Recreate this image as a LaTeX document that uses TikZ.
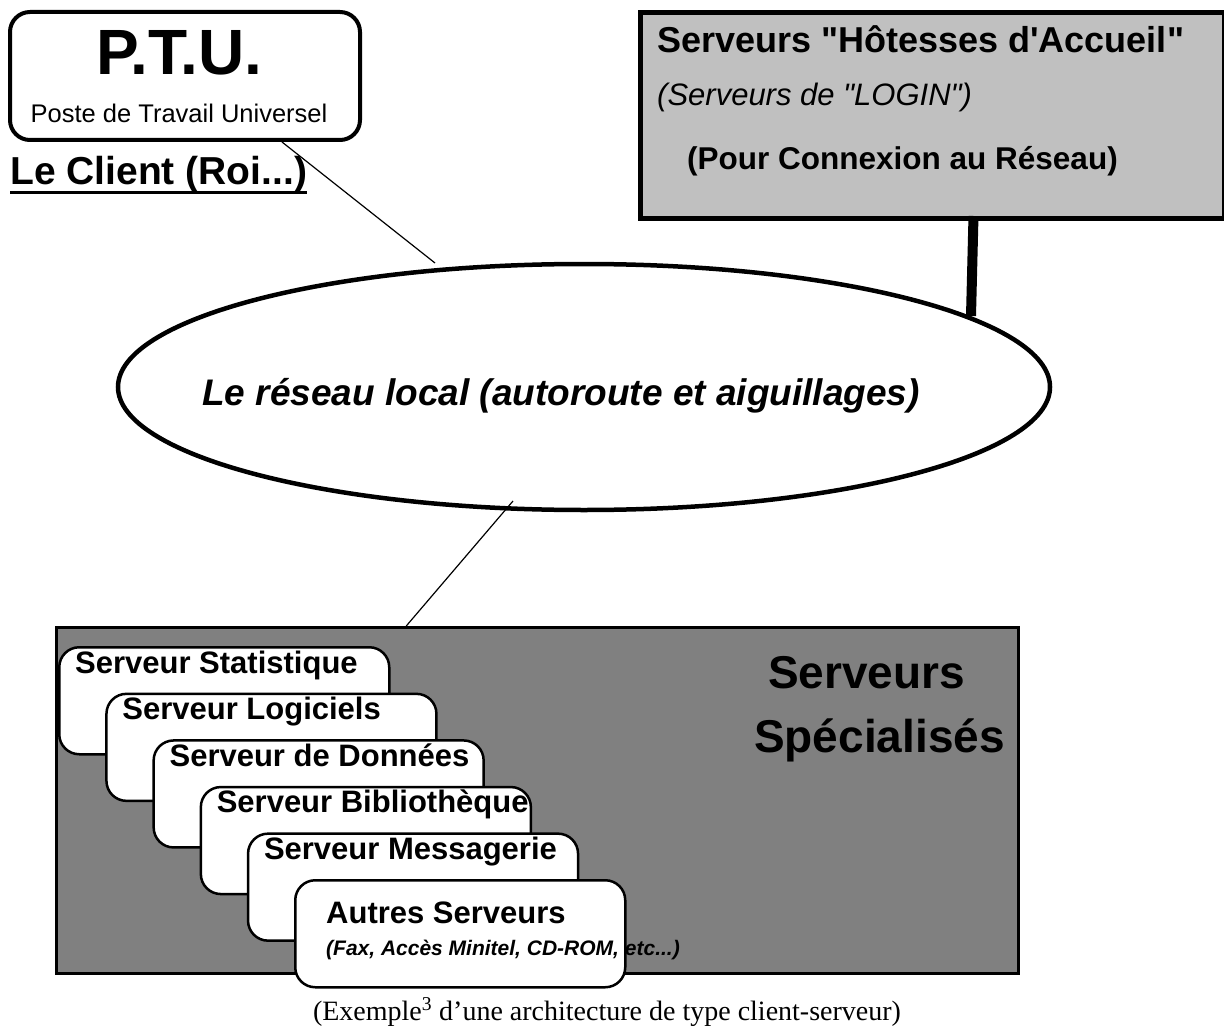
\documentclass[tikz,border=0pt]{standalone}
\usepackage{fontspec}
\setmainfont{Liberation Sans}[Ligatures=TeXOff]
\newfontfamily\capfont{Liberation Serif}
\usetikzlibrary{shapes.geometric}
\definecolor{hostgray}{HTML}{C0C0C0}
\definecolor{specgray}{HTML}{808080}
\newcommand{\fsz}[1]{\fontsize{#1}{#1}\selectfont}

\begin{document}
\begin{tikzpicture}[x=1pt, y=-1pt,
	txt/.style={anchor=base west, inner sep=0pt},
	srvbox/.style={draw, line width=2.5pt, fill=white, rounded corners=20pt, anchor=north west, minimum width=330pt, minimum height=107pt},
	srvlabel/.style={txt, font=\fsz{31}\bfseries},
	link/.style={line width=1.2pt}]
	\newcommand{\stepX}{47.2}
	\newcommand{\stepY}{46.6}

	\useasboundingbox (0,0) rectangle (1224,1030);

	% client
	\node[draw, line width=4pt, rounded corners=20pt, anchor=north west, minimum width=350pt, minimum height=128pt] (ptu) at (8,10) {};
	\node[anchor=base, inner sep=0pt, font=\fsz{64}\bfseries] (ptuTitle) at (179,75) {P.T.U.};
	\node[anchor=base, inner sep=0pt, font=\fsz{25.5}] (ptuSub) at (179,123) {Poste de Travail Universel};
	\node[txt, font=\fsz{39}\bfseries] (client) at (10,185) {Le Client (Roi...)};
	\draw[line width=3pt] ([yshift=-7pt]client.base west) -- ([yshift=-7pt]client.base east);	% underline

	% login servers
	\node[draw, line width=5pt, fill=hostgray, anchor=north west, minimum width=584pt, minimum height=206pt] (host) at (638,10) {};
	\node[txt, font=\fsz{36}\bfseries] (hostTitle) at (657,53) {Serveurs "Hôtesses d'Accueil"};
	\node[txt, font=\fsz{31}\itshape] (hostLogin) at (657,106) {(Serveurs de "LOGIN")};
	\node[txt, font=\fsz{31.5}\bfseries] (hostNote) at (687,170) {(Pour Connexion au Réseau)};

	% local network
	\node[draw, ellipse, line width=4.5pt, minimum width=932pt, minimum height=246pt, inner sep=0pt] (lan) at (584,387) {};
	\node[txt, font=\fsz{37}\bfseries\itshape] (lanText) at (202,405) {Le réseau local (autoroute et aiguillages)};

	% specialised servers
	\node[draw, line width=2.5pt, fill=specgray, anchor=north west, minimum width=962pt, minimum height=346pt] (spec) at (55,626) {};
	\node[txt, font=\fsz{46}\bfseries] (specTop) at (768,688) {Serveurs};
	\node[txt, font=\fsz{46}\bfseries] (specBot) at (754,752) {Spécialisés};

	\node[srvbox] (srvStat) at (58,646) {};
	\node[srvlabel] (lblStat) at ([xshift=17pt,yshift=-27pt]srvStat.north west) {Serveur Statistique};
	\node[srvbox] (srvLog) at (58+\stepX,646+\stepY) {};
	\node[srvlabel] (lblLog) at ([xshift=17pt,yshift=-27pt]srvLog.north west) {Serveur Logiciels};
	\node[srvbox] (srvData) at (58+2*\stepX,646+2*\stepY) {};
	\node[srvlabel] (lblData) at ([xshift=17pt,yshift=-27pt]srvData.north west) {Serveur de Données};
	\node[srvbox] (srvBib) at (58+3*\stepX,646+3*\stepY) {};
	\node[srvlabel] (lblBib) at ([xshift=17pt,yshift=-27pt]srvBib.north west) {Serveur Bibliothèque};
	\node[srvbox] (srvMsg) at (58+4*\stepX,646+4*\stepY) {};
	\node[srvlabel] (lblMsg) at ([xshift=17pt,yshift=-27pt]srvMsg.north west) {Serveur Messagerie};
	\node[srvbox] (srvOther) at (58+5*\stepX,646+5*\stepY) {};
	\node[srvlabel] (lblOther) at ([xshift=32pt,yshift=-44pt]srvOther.north west) {Autres Serveurs};
	\node[txt, font=\fsz{21}\bfseries\itshape] (lblOtherNote) at ([xshift=32pt,yshift=-76pt]srvOther.north west) {(Fax, Accès Minitel, CD-ROM, etc...)};

	% connections
	\coordinate (lanTop) at (435,263);
	\coordinate (lanFoot) at (513,501);
	\coordinate (lanJoin) at (971,316);
	\draw[link] ([xshift=97pt]ptu.south) -- (lanTop);
	\draw[link] (lanFoot) -- ([xshift=-131pt]spec.north);
	\draw[line width=10pt] ([xshift=41pt,yshift=5pt]host.south) -- (lanJoin);

	% caption
	\node[anchor=base, inner sep=0pt, font=\capfont\fsz{28}] (caption) at (607,1020) {(Exemple\textsuperscript{3} d’une architecture de type client-serveur)};
\end{tikzpicture}
\end{document}
